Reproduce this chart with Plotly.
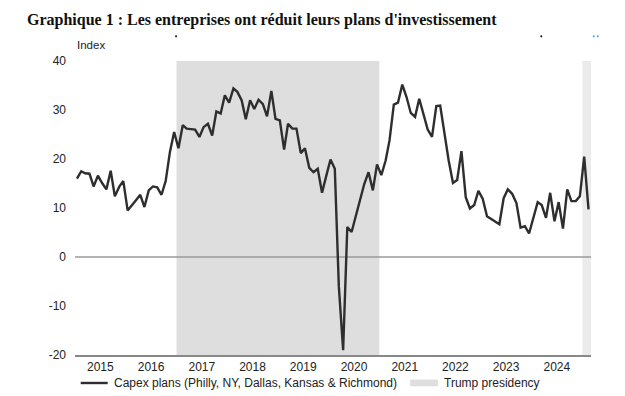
import plotly.graph_objects as go
import pandas as pd

# ---- data (monthly, Jan 2015 - Feb 2025) ----
capex_2015 = [16.0, 17.5, 17.1, 17.0, 14.4, 16.6, 15.1, 13.8, 17.6, 12.4, 14.3, 15.5]
capex_2016 = [9.5, 10.7, 11.6, 12.7, 10.2, 13.6, 14.4, 14.2, 12.7, 15.5, 21.5, 25.5]
capex_2017 = [22.2, 26.9, 26.2, 26.1, 26.0, 24.5, 26.5, 27.2, 24.8, 29.7, 29.3, 33.0]
capex_2018 = [31.5, 34.4, 33.7, 32.0, 28.1, 32.0, 30.2, 32.1, 31.2, 28.7, 33.9, 28.2]
capex_2019 = [27.9, 21.9, 27.2, 26.2, 26.2, 21.2, 22.2, 18.2, 17.3, 18.0, 13.1, 16.5]
capex_2020 = [19.9, 18.0, -6.0, -19.0, 6.1, 5.1, 8.5, 11.8, 15.0, 17.3, 13.6, 18.9]
capex_2021 = [16.7, 19.7, 23.8, 31.1, 31.5, 35.2, 32.7, 29.4, 28.6, 32.3, 29.1, 26.0]
capex_2022 = [24.5, 30.8, 30.9, 25.2, 19.7, 15.1, 15.7, 21.6, 12.2, 9.9, 10.6, 13.5]
capex_2023 = [11.9, 8.3, 7.8, 7.3, 6.7, 12.0, 13.8, 12.9, 11.0, 6.0, 6.3, 4.8]
capex_2024 = [8.0, 11.2, 10.6, 8.0, 13.1, 7.3, 11.2, 5.8, 13.8, 11.4, 11.4, 12.4]
capex_2025 = [20.5, 9.7]

trump_starts = ["2017-01-01", "2025-01-01"]
trump_ends = ["2021-01-01", "2025-03-05"]

y_tickvals = [40, 30, 20, 10, 0, -10, -20]
y_ticktext = ["40", "30", "20", "10", "0", "-10", "-20"]

title_text = "Graphique 1 : Les entreprises ont réduit leurs plans d'investissement"
series_name = "Capex plans (Philly, NY, Dallas, Kansas & Richmond)"
shade_name = "Trump presidency"

values = (capex_2015 + capex_2016 + capex_2017 + capex_2018 + capex_2019 +
          capex_2020 + capex_2021 + capex_2022 + capex_2023 + capex_2024 + capex_2025)
dates = pd.date_range(start="2015-01-01", periods=len(values), freq="MS") + pd.Timedelta(days=14)

# ---- geometry (pixels) ----
W, H = 625, 396
L, R, T, B = 75, 34.3, 60.7, 41.3
pw, ph = W - L - R, H - T - B

def px(x):
    return (x - L) / pw

def py(y):
    return (H - B - y) / ph

fig = go.Figure()

fig.add_trace(go.Scatter(
    x=dates, y=values, mode="lines",
    line=dict(color="#2e2e2e", width=2.4),
    showlegend=False, name=series_name,
))

shapes = []
shade_colors = ["#dedede", "#ebebeb"]
for s, e, c in zip(trump_starts, trump_ends, shade_colors):
    shapes.append(dict(type="rect", xref="x", yref="paper", x0=s, x1=e, y0=0, y1=1,
                       fillcolor=c, line=dict(width=0), layer="below"))

# zero line
shapes.append(dict(type="line", xref="paper", yref="y", x0=0, x1=1, y0=0, y1=0,
                   line=dict(color="#9a9a9a", width=1.5), layer="below"))

# manual legend
ly = py(382.7)
shapes.append(dict(type="line", xref="paper", yref="paper", x0=px(80.7), x1=px(107.7),
                   y0=ly, y1=ly, line=dict(color="#2e2e2e", width=2.4)))
shapes.append(dict(type="rect", xref="paper", yref="paper", x0=px(410), x1=px(437.7),
                   y0=py(386), y1=py(379.3), fillcolor="#dedede", line=dict(width=0)))

# small marks at the top of the original image
for (cx, col) in [(176, "#222222"), (541, "#222222"), (593.5, "#5aa6e6"), (597.5, "#5aa6e6")]:
    shapes.append(dict(type="circle", xref="paper", yref="paper",
                       x0=px(cx - 1.1), x1=px(cx + 1.1), y0=py(37.1), y1=py(34.9),
                       fillcolor=col, line=dict(width=0)))

annotations = [
    dict(text=series_name, xref="paper", yref="paper", x=px(112), y=ly,
         xanchor="left", yanchor="middle", showarrow=False,
         font=dict(family="Liberation Sans, Arial", size=12, color="#222")),
    dict(text=shade_name, xref="paper", yref="paper", x=px(441.5), y=ly,
         xanchor="left", yanchor="middle", showarrow=False,
         font=dict(family="Liberation Sans, Arial", size=12, color="#222")),
    dict(text="Index", xref="paper", yref="paper", x=px(75), y=py(45),
         xanchor="left", yanchor="middle", showarrow=False,
         font=dict(family="Liberation Sans, Arial", size=11.5, color="#222")),
]

fig.update_layout(
    width=W, height=H,
    margin=dict(l=L, r=R, t=T, b=B, pad=0),
    paper_bgcolor="white", plot_bgcolor="white",
    title=dict(text="<b>" + title_text + "</b>", x=27 / W, xanchor="left",
               xref="container", yref="container", y=1 - 19 / H, yanchor="middle",
               font=dict(family="Liberation Serif, Times New Roman, serif", size=16, color="#111")),
    shapes=shapes, annotations=annotations,
    showlegend=False,
    xaxis=dict(
        type="date", range=["2015-01-01", "2025-03-05"],
        tick0="2015-01-01", dtick="M12", tickformat="%Y", ticklabelmode="period",
        ticks="", ticklen=0,
        minor=dict(ticks="outside", ticklen=4, tickwidth=1.2, tickcolor="#888",
                   tick0="2015-01-01", dtick="M12", showgrid=False),
        showline=True, linecolor="#888", linewidth=1.5,
        showgrid=False, zeroline=False,
        tickfont=dict(family="Liberation Sans, Arial", size=12, color="#222"),
    ),
    yaxis=dict(
        range=[-20, 40], tickvals=y_tickvals, ticktext=y_ticktext,
        showgrid=False, zeroline=False, showline=False, ticks="",
        ticklabelstandoff=8,
        tickfont=dict(family="Liberation Sans, Arial", size=12, color="#222"),
    ),
)

fig.write_html("out.html", config={"displayModeBar": False},
               post_script="document.body.style.margin='0';document.body.style.overflow='hidden';")
